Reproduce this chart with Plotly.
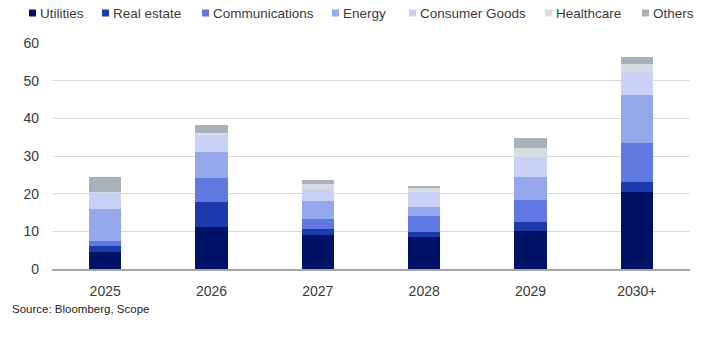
import plotly.graph_objects as go

categories = ["2025", "2026", "2027", "2028", "2029", "2030+"]
series_names = ["Utilities", "Real estate", "Communications", "Energy",
                "Consumer Goods", "Healthcare", "Others"]
utilities = [4.5, 11.2, 8.9, 8.6, 10.1, 20.4]
real_estate = [1.6, 6.7, 1.6, 1.3, 2.3, 2.8]
communications = [1.4, 6.2, 2.7, 4.25, 5.9, 10.3]
energy = [8.3, 7.0, 4.85, 2.35, 6.1, 12.7]
consumer_goods = [4.5, 4.5, 3.15, 4.0, 5.45, 6.2]
healthcare = [0.2, 0.6, 1.4, 0.9, 2.15, 1.9]
others = [3.8, 2.0, 1.0, 0.6, 2.9, 1.9]
y_ticks = [0, 10, 20, 30, 40, 50, 60]
source_text = "Source: Bloomberg, Scope"

series_values = [utilities, real_estate, communications, energy,
                 consumer_goods, healthcare, others]
colors = ["#001266", "#1d3aad", "#6079e0", "#95a8ec", "#c9d2f6", "#d6dde0", "#a7b3b9"]

W, H = 723, 343
ML, MR, MT, MB = 52, 33, 43, 74
PW = W - ML - MR
PH = H - MT - MB

fig = go.Figure()
for name, vals, col in zip(series_names, series_values, colors):
    fig.add_trace(go.Bar(x=categories, y=vals, name=name, marker_color=col,
                         marker_line_width=0, width=0.307, showlegend=False))

def px2x(px):
    return (px - ML) / PW

def py2y(py):
    return (H - MB - py) / PH

# custom legend (markers + labels)
legend_marker_px = [29, 102, 202, 332, 409, 545, 642]
annotations = []
shapes = []
for name, col, mx in zip(series_names, colors, legend_marker_px):
    shapes.append(dict(type="rect", xref="paper", yref="paper",
                       x0=px2x(mx), x1=px2x(mx + 7), y0=py2y(16.5), y1=py2y(9.5),
                       fillcolor=col, line_width=0))
    annotations.append(dict(text=name, xref="paper", yref="paper",
                            x=px2x(mx + 8.5), y=py2y(13), xanchor="left", yanchor="middle",
                            showarrow=False, font=dict(size=13.5, color="#3a3a3a",
                                                       family="Liberation Sans, Arial, sans-serif")))
annotations.append(dict(text=source_text, xref="paper", yref="paper",
                        x=px2x(10), y=py2y(309), xanchor="left", yanchor="middle",
                        showarrow=False, font=dict(size=11.5, color="#222222",
                                                   family="Liberation Sans, Arial, sans-serif")))

fig.update_layout(
    barmode="stack",
    width=W, height=H,
    margin=dict(l=ML, r=MR, t=MT, b=MB, pad=0),
    paper_bgcolor="white", plot_bgcolor="white",
    font=dict(family="Liberation Sans, Arial, sans-serif", color="#3a3a3a", size=14),
    annotations=annotations,
    shapes=shapes,
    xaxis=dict(type="category", range=[-0.5, 5.5], showgrid=False, showline=True,
               linecolor="#a6a6a6", linewidth=1.5, ticks="", ticklabelstandoff=8,
               tickfont=dict(size=14, color="#3a3a3a")),
    yaxis=dict(range=[0, 60], tickvals=y_ticks, showgrid=True, gridcolor="#d9d9d9",
               gridwidth=1, zeroline=False, showline=False, ticks="",
               ticklabelstandoff=12, tickfont=dict(size=14, color="#3a3a3a")),
)

fig.write_html("out.html")
